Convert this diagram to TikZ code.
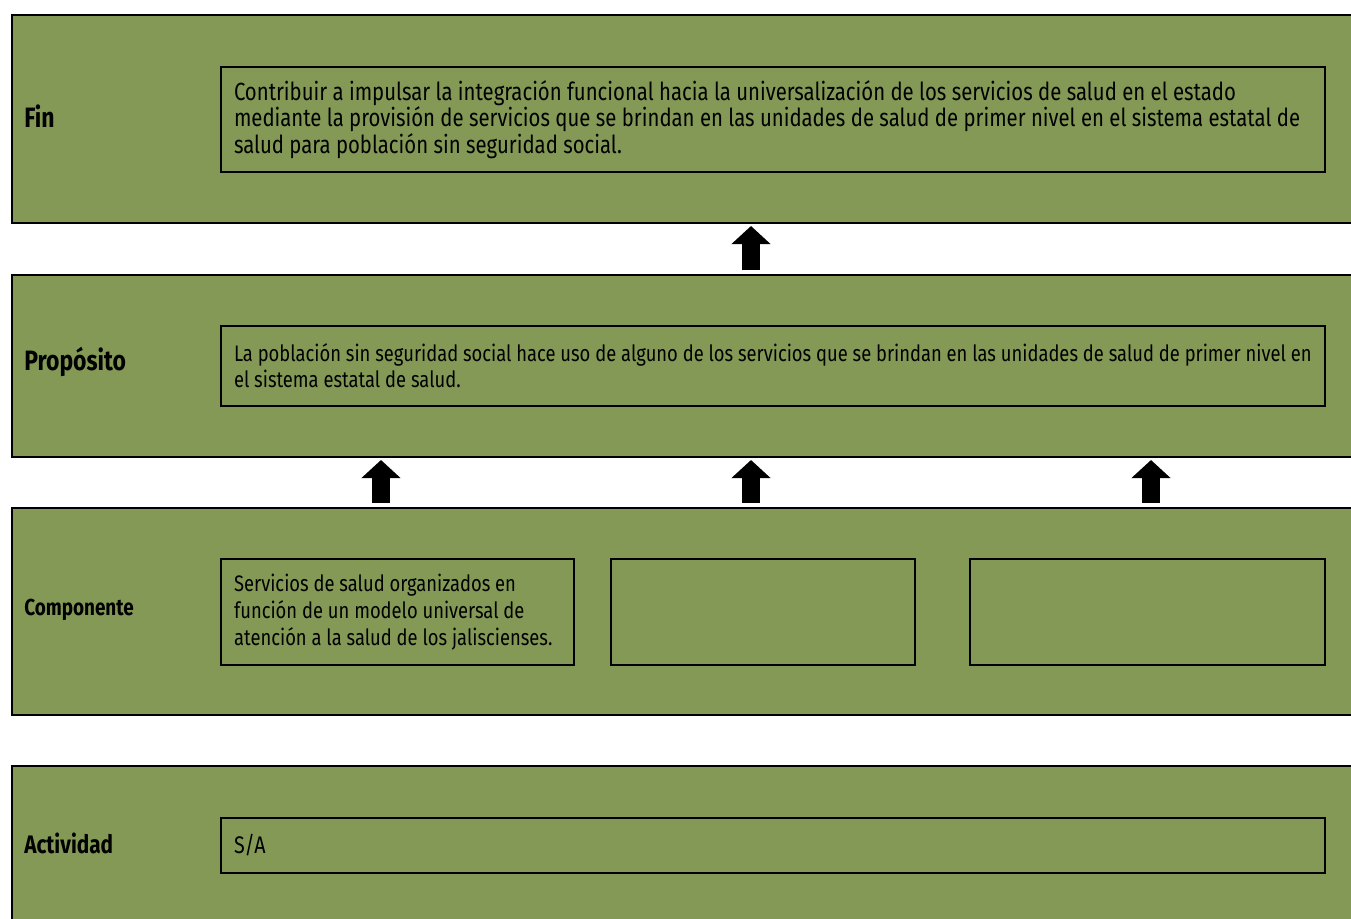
\documentclass[tikz,border=0pt]{standalone}
\usepackage{fontspec}
\setmainfont{Fira Sans}[FakeStretch=0.82]
\definecolor{olive-band}{RGB}{131,153,85}
\usetikzlibrary{positioning,arrows.meta}

\begin{document}
\begin{tikzpicture}[
    x=0.75pt, y=-0.75pt,
    every node/.style={inner sep=0pt},
    band/.style={draw=black, line width=1.5pt, fill=olive-band, anchor=north west,
        minimum width=1042.5pt},
    textbox/.style={draw=black, line width=1.5pt, anchor=north west, align=flush left,
        inner xsep=9.75pt},
    rowlabel/.style={anchor=west, font=\fontsize{21}{24}\selectfont\bfseries},
    bigarrow/.style={line width=13.5pt, -{Triangle[width=28.5pt,length=13.5pt]},
        shorten <=3pt, shorten >=1.5pt}
]

\useasboundingbox (0,0) rectangle (1351,918);
\clip (0,0) rectangle (1351,918);
\fill[white] (0,0) rectangle (1351,918);

% Bands
\node[band, minimum height=156pt] (fin) at (11,14) {};
\node[band, minimum height=136.5pt] (prop) at (11,274) {};
\node[band, minimum height=155.25pt] (comp) at (11,507) {};
\node[band, minimum height=123.75pt] (act) at (11,765) {};

% Row labels
\node[rowlabel] (finlabel) at (24,116) {Fin};
\node[rowlabel] (proplabel) at (24,362) {Propósito};
\node[rowlabel, font=\fontsize{17.3}{20}\selectfont\bfseries] (complabel) at (24,610) {Componente};
\node[rowlabel, font=\fontsize{19}{22}\selectfont\bfseries] (actlabel) at (24,843) {Actividad};

% Text boxes
\node[textbox, minimum width=828pt, minimum height=78.75pt, text width=808.5pt,
    font=\fontsize{18.6}{19.9}\selectfont] (finbox) at (220,66)
    {Contribuir a impulsar la integración funcional hacia la universalización de los servicios de salud en el estado\\
     mediante la provisión de servicios que se brindan en las unidades de salud de primer nivel en el sistema estatal de\\
     salud para población sin seguridad social.};
\node[textbox, minimum width=828pt, minimum height=60pt, text width=808.5pt,
    font=\fontsize{16.8}{19.5}\selectfont] (propbox) at (220,325)
    {La población sin seguridad social hace uso de alguno de los servicios que se brindan en las unidades de salud de primer nivel en\\
     el sistema estatal de salud.};
\node[textbox, minimum width=264.75pt, minimum height=79.5pt, text width=245pt,
    font=\fontsize{16.8}{20.25}\selectfont] (compbox1) at (220,558)
    {Servicios de salud organizados en\\ función de un modelo universal de\\ atención a la salud de los jaliscienses.};
\node[textbox, minimum width=228pt, minimum height=79.5pt] (compbox2) at (610,558) {};
\node[textbox, minimum width=266.25pt, minimum height=79.5pt] (compbox3) at (969,558) {};
\node[textbox, minimum width=828pt, minimum height=41.25pt, text width=808.5pt,
    font=\fontsize{18}{19.5}\selectfont] (actbox) at (220,817) {S/A};

% Arrows
\coordinate (left) at (381,0);
\coordinate (mid) at (751,0);
\coordinate (right) at (1151,0);
\draw[bigarrow] (prop.north -| mid) -- (fin.south -| mid);
\draw[bigarrow] (comp.north -| left) -- (prop.south -| left);
\draw[bigarrow] (comp.north -| mid) -- (prop.south -| mid);
\draw[bigarrow] (comp.north -| right) -- (prop.south -| right);

\end{tikzpicture}
\end{document}
